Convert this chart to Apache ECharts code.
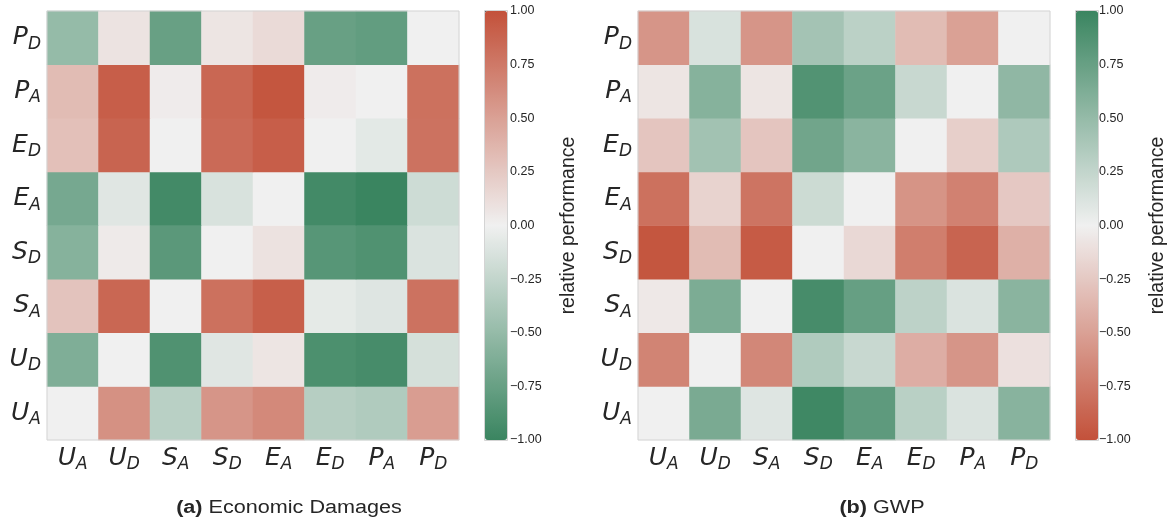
<!DOCTYPE html>
<html>
<head>
<meta charset="utf-8">
<script src="https://cdn.jsdelivr.net/npm/echarts@6/dist/echarts.min.js"></script>
<style>html,body{margin:0;padding:0;background:#fff}#c{width:1169px;height:524px}</style>
</head>
<body>
<div id="c"></div>
<script>
// categories (bottom-to-top on y, left-to-right on x)
const categories = ['UA','UD','SA','SD','EA','ED','PA','PD'];
const colorbarTicks = [-1, -0.75, -0.5, -0.25, 0, 0.25, 0.5, 0.75, 1];

// Economic Damages: one array per row, columns UA..PD
const econRowPD = [-0.50, 0.08, -0.75, 0.07, 0.14, -0.75, -0.78, 0.00];
const econRowPA = [ 0.33, 0.92, 0.03, 0.86, 0.97, 0.03, 0.00, 0.80];
const econRowED = [ 0.30, 0.88, 0.00, 0.84, 0.92, 0.00, -0.07, 0.79];
const econRowEA = [-0.67, -0.09, -0.95, -0.13, 0.00, -0.95, -1.00, -0.19];
const econRowSD = [-0.58, 0.04, -0.82, 0.00, 0.09, -0.84, -0.88, -0.12];
const econRowSA = [ 0.28, 0.86, 0.00, 0.80, 0.91, -0.06, -0.10, 0.79];
const econRowUD = [-0.62, 0.00, -0.88, -0.09, 0.07, -0.90, -0.93, -0.15];
const econRowUA = [ 0.00, 0.60, -0.30, 0.57, 0.65, -0.32, -0.35, 0.52];

// GWP: one array per row, columns UA..PD
const gwpRowPD = [-0.57, 0.13, -0.57, 0.42, 0.29, -0.33, -0.50, 0.00];
const gwpRowPA = [-0.07, 0.58, -0.07, 0.87, 0.73, 0.22, 0.00, 0.53];
const gwpRowED = [-0.27, 0.43, -0.27, 0.70, 0.56, 0.00, -0.21, 0.36];
const gwpRowEA = [-0.80, -0.18, -0.78, 0.20, 0.00, -0.58, -0.70, -0.25];
const gwpRowSD = [-0.97, -0.33, -0.94, 0.00, -0.15, -0.72, -0.88, -0.40];
const gwpRowSA = [-0.05, 0.64, 0.00, 0.93, 0.76, 0.28, 0.12, 0.56];
const gwpRowUD = [-0.68, 0.00, -0.66, 0.35, 0.22, -0.42, -0.57, -0.10];
const gwpRowUA = [ 0.00, 0.65, 0.10, 0.97, 0.80, 0.30, 0.12, 0.57];

const econMatrix = [econRowUA, econRowUD, econRowSA, econRowSD, econRowEA, econRowED, econRowPA, econRowPD];
const gwpMatrix = [gwpRowUA, gwpRowUD, gwpRowSA, gwpRowSD, gwpRowEA, gwpRowED, gwpRowPA, gwpRowPD];

function toData(m) {
  const out = [];
  m.forEach((row, yi) => row.forEach((v, xi) => out.push([xi, yi, v])));
  return out;
}

const GREEN = '#3a8560', MID = '#f0f0f0', RED = '#c3513a';
const TXT = '#262626';
const FRAME = '#d4d4d4';

const catLabel = v => '{m|' + v[0] + '}{s|' + v[1] + '}';
const rich = {
  m: {fontFamily: 'DejaVu Sans', fontStyle: 'italic', fontSize: 25, color: TXT, lineHeight: 30, verticalAlign: 'middle'},
  s: {fontFamily: 'DejaVu Sans', fontStyle: 'italic', fontSize: 17, color: TXT, lineHeight: 30, verticalAlign: 'bottom'}
};

const panels = [
  {left: 47, barLeft: 485},
  {left: 638, barLeft: 1076}
];
const GW = 412, GT = 11, GH = 429, BW = 22;

const grids = [], xAxes = [], yAxes = [], series = [], visualMaps = [], graphics = [];
panels.forEach((p, i) => {
  grids.push({left: p.left, top: GT, width: GW, height: GH, show: true, borderColor: FRAME, borderWidth: 1, backgroundColor: 'transparent', z: 5});
  xAxes.push({type: 'category', gridIndex: i, data: categories, axisLine: {show: false}, axisTick: {show: false},
    axisLabel: {formatter: catLabel, rich: rich, margin: 3, interval: 0}, splitLine: {show: false}});
  yAxes.push({type: 'category', gridIndex: i, data: categories, axisLine: {show: false}, axisTick: {show: false},
    axisLabel: {formatter: catLabel, rich: rich, margin: 6, interval: 0}, splitLine: {show: false}});
  series.push({type: 'heatmap', xAxisIndex: i, yAxisIndex: i, data: toData(i === 0 ? econMatrix : gwpMatrix),
    itemStyle: {borderWidth: 0}, emphasis: {disabled: true}});
  visualMaps.push({type: 'continuous', seriesIndex: i, min: -1, max: 1, calculable: false, show: true,
    left: p.barLeft, top: GT, itemWidth: BW, itemHeight: GH, padding: 0, text: null, showLabel: false,
    inRange: {color: i === 0 ? [GREEN, MID, RED] : [RED, MID, GREEN]}});
  // colorbar axis grid
  grids.push({left: p.barLeft, top: GT, width: BW, height: GH, show: false});
  xAxes.push({type: 'value', gridIndex: i + 2, show: false});
  yAxes.push({type: 'value', gridIndex: i + 2, min: colorbarTicks[0], max: colorbarTicks[colorbarTicks.length - 1],
    interval: 0.25, position: 'right', axisLine: {show: false}, splitLine: {show: false},
    axisTick: {show: true, length: 4, lineStyle: {color: '#555', width: 1}},
    axisLabel: {color: TXT, fontFamily: 'Liberation Sans', fontSize: 12.5, margin: 3,
      formatter: v => (v < 0 ? '\u2212' : '') + Math.abs(v).toFixed(2)},
    name: 'relative performance', nameLocation: 'middle', nameRotate: 90, nameGap: 52,
    nameTextStyle: {fontFamily: 'Liberation Sans', fontSize: 19.5, color: TXT}});
  graphics.push({type: 'rect', shape: {x: p.barLeft - 0.5, y: GT - 0.5, width: BW + 1, height: GH + 1}, z: 100,
    style: {fill: 'none', stroke: FRAME, lineWidth: 1}});
});

const gridsOrdered = [grids[0], grids[2], grids[1], grids[3]];
const xOrdered = [xAxes[0], xAxes[2], xAxes[1], xAxes[3]];
const yOrdered = [yAxes[0], yAxes[2], yAxes[1], yAxes[3]];

const titleRich = {
  b: {fontFamily: 'Liberation Sans', fontWeight: 'bold', fontSize: 18, fill: TXT},
  n: {fontFamily: 'Liberation Sans', fontSize: 18, fill: TXT}
};
graphics.push({type: 'text', x: 289, y: 508, scaleX: 1.2, z: 100, style: {text: '{b|(a)}{n| Economic Damages}', rich: titleRich, align: 'center', verticalAlign: 'middle'}});
graphics.push({type: 'text', x: 882, y: 508, scaleX: 1.2, z: 100, style: {text: '{b|(b)}{n| GWP}', rich: titleRich, align: 'center', verticalAlign: 'middle'}});

const chart = echarts.init(document.getElementById('c'), null, {renderer: 'canvas'});
chart.setOption({
  animation: false,
  backgroundColor: '#fff',
  grid: gridsOrdered,
  xAxis: xOrdered,
  yAxis: yOrdered,
  visualMap: visualMaps,
  series: series,
  graphic: graphics
});
</script>
</body>
</html>
